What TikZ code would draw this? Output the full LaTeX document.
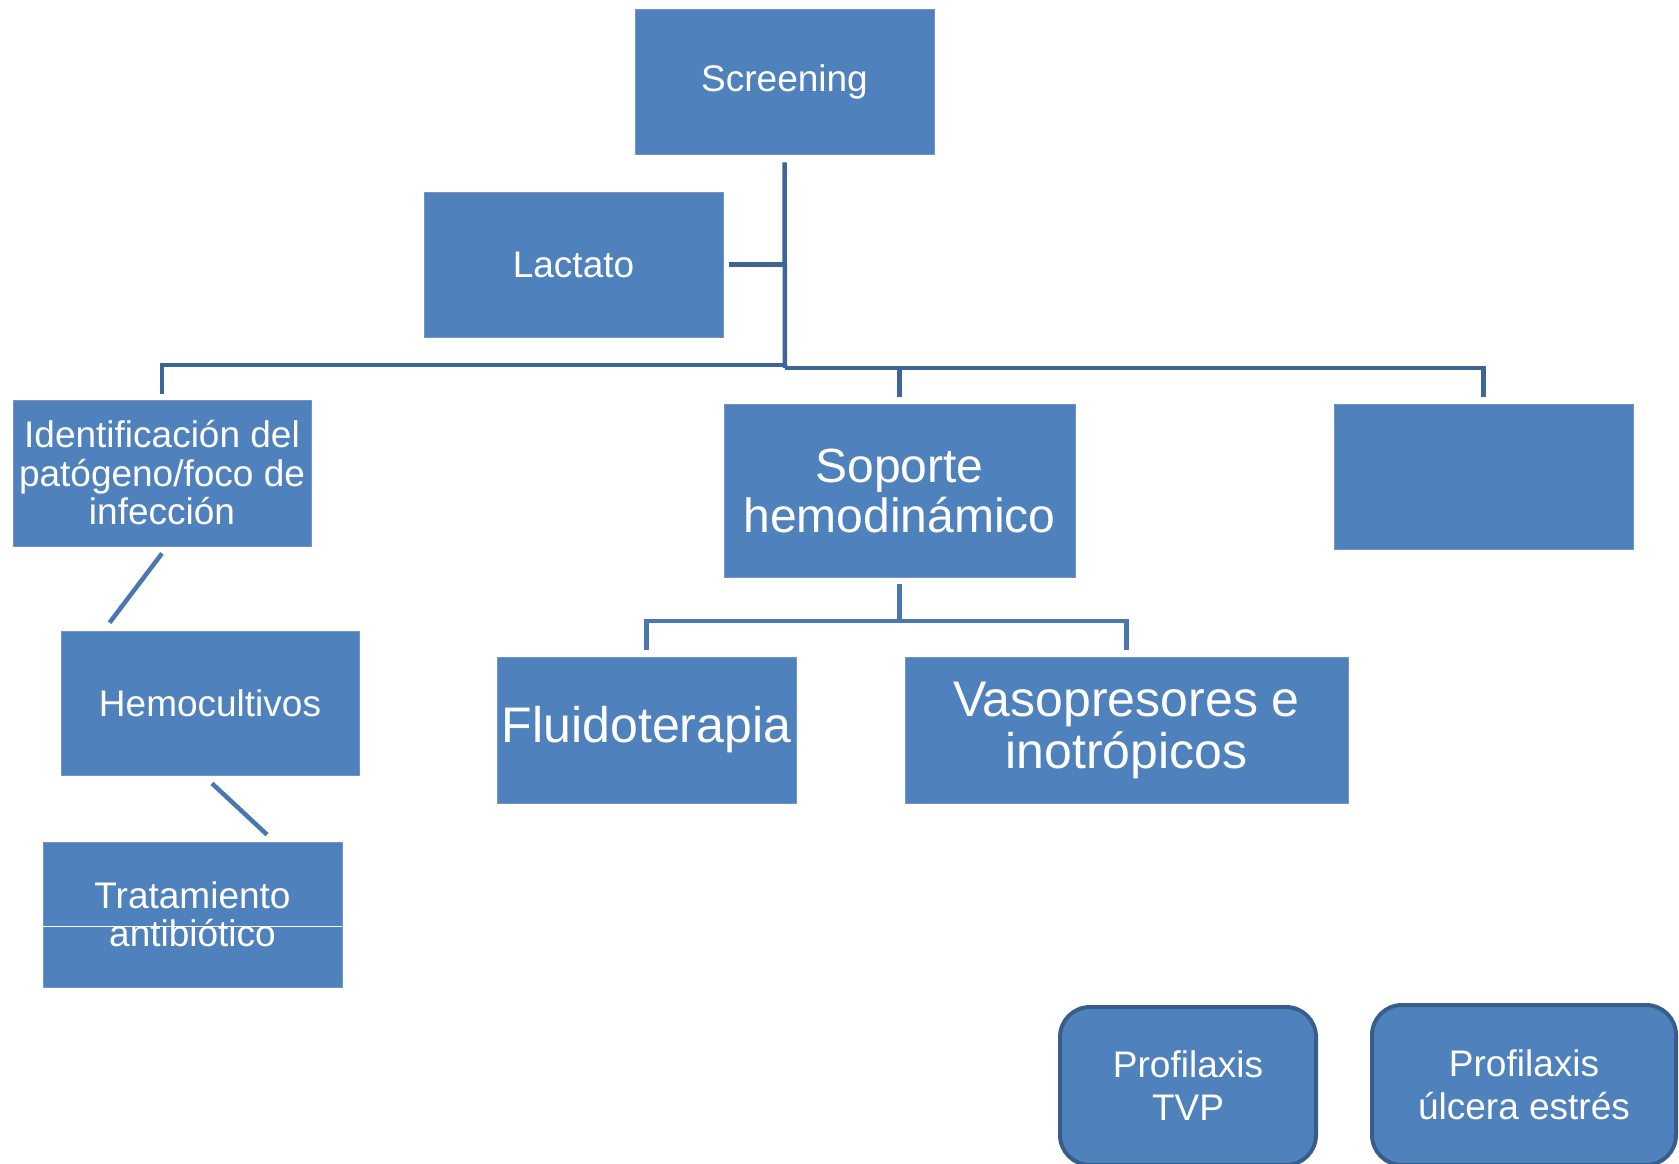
\documentclass[tikz,border=0pt]{standalone}
\usepackage{fontspec}
\setmainfont{Liberation Sans}
\usetikzlibrary{calc}
\definecolor{boxfill}{HTML}{4F81BD}
\definecolor{boxedge}{HTML}{6F95C8}
\definecolor{rndedge}{HTML}{385D8A}
\definecolor{lineA}{HTML}{3E6597}
\definecolor{lineB}{HTML}{4A77AF}
\tikzset{
  box/.style={fill=boxfill, draw=boxedge, line width=0.8pt, inner sep=0pt, text=white, align=center},
  smalltxt/.style={font=\fontsize{37}{38.5}\selectfont},
  bigtxt/.style={font=\fontsize{50}{52}\selectfont},
  midtxt/.style={font=\fontsize{48}{50}\selectfont},
  rbox/.style={fill=boxfill, draw=rndedge, line width=4pt, rounded corners=30pt, inner sep=0pt, text=white, align=center, font=\fontsize{37}{43}\selectfont},
  connA/.style={draw=lineA, line width=4.5pt},
  connB/.style={draw=lineB, line width=4.5pt},
  plaintxt/.style={text=white, align=center, inner sep=0pt}
}
\begin{document}
\begin{tikzpicture}[x=1pt,y=-1pt]
\useasboundingbox (0,0) rectangle (1679,1163);
% boxes
\node[box, smalltxt, minimum width=299pt, minimum height=145pt] (scr) at (784.5,81.5) {Screening};
\node[box, smalltxt, minimum width=299pt, minimum height=145pt] (lac) at (573.5,264.5) {Lactato};
\node[box, smalltxt, minimum width=298pt, minimum height=146pt] (ide) at (162,473) {Identificación del\\patógeno/foco de\\infección};
\node[box, midtxt, minimum width=351pt, minimum height=173pt] (sop) at (899.5,490.5) {Soporte\\hemodinámico};
\node[box, minimum width=299pt, minimum height=145pt] (blk) at (1483.5,476.5) {};
\node[box, smalltxt, minimum width=298pt, minimum height=144pt] (hem) at (210,703) {Hemocultivos};
\node[box, minimum width=299pt, minimum height=145pt] (tra) at (192.5,914.5) {};
\draw[white, line width=1pt] ([yshift=-11.5pt]tra.west) -- ([yshift=-11.5pt]tra.east);
\node[plaintxt, smalltxt] (tratxt) at (tra.center) {Tratamiento\\antibiótico};
\node[box, bigtxt, minimum width=299pt, minimum height=146pt] (flu) at (646.5,730) {Fluidoterapia};
\node[box, bigtxt, minimum width=443pt, minimum height=146pt] (vas) at (1126.5,730) {Vasopresores e\\inotrópicos};
\node[rbox, minimum width=256pt, minimum height=158pt] (tvp) at (1188,1086) {Profilaxis\\TVP};
\node[rbox, minimum width=304pt, minimum height=160pt] (ulc) at (1524,1085) {Profilaxis\\úlcera estrés};
% top connectors
\coordinate (jl) at (785,365);
\coordinate (jr) at (785,368);
\draw[connA] ([yshift=-8pt]scr.south) -- (jr);
\draw[connA] ([xshift=6pt]lac.east) -- (lac.east -| jr);
\draw[connA] ([yshift=6pt]ide.north) |- (jl);
\draw[connA] ([yshift=7pt]blk.north) |- (jr);
\draw[connA] ([yshift=7pt]sop.north) -- (sop.north |- jr);
% soporte children
\coordinate (k) at (899.5,621);
\draw[connB] ([yshift=-7pt]sop.south) -- (k);
\draw[connB] ([yshift=7pt]flu.north) |- (k);
\draw[connB] ([yshift=7pt]vas.north) |- (k);
% diagonals
\draw[connB] ([yshift=-7pt]ide.south) -- ([xshift=49pt,yshift=8pt]hem.north west);
\draw[connB] ([xshift=2pt,yshift=-8pt]hem.south) -- ([xshift=74.5pt,yshift=7pt]tra.north);
\end{tikzpicture}
\end{document}
